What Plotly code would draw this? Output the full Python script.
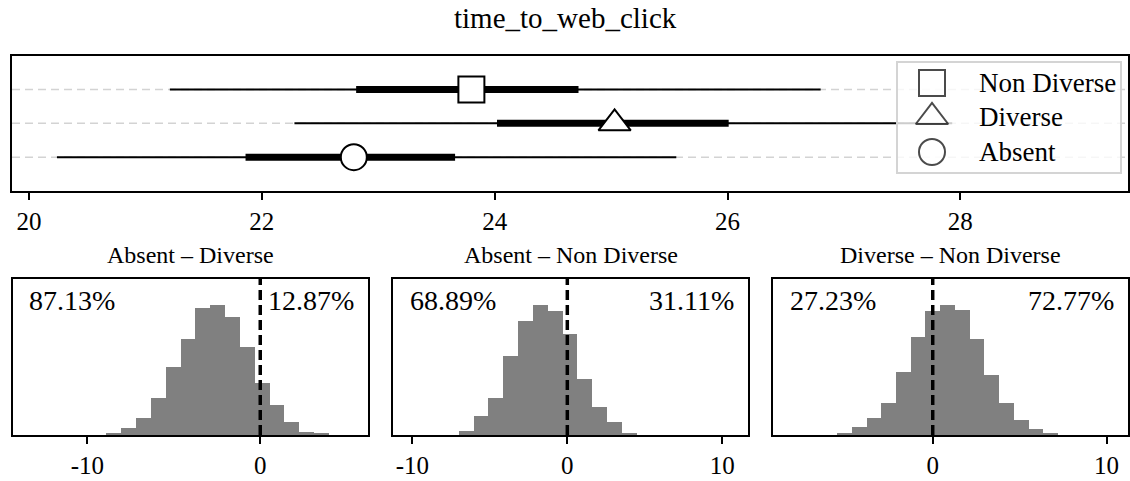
import plotly.graph_objects as go

W, H = 1130, 481
FONT = "Liberation Serif"

# ---- posterior summaries for time_to_web_click ----
groups = ["Absent", "Diverse", "Non Diverse"]
means = [22.79, 25.03, 23.80]
outer_lo = [20.24, 22.28, 21.21]
outer_hi = [25.56, 27.93, 26.80]
inner_lo = [21.86, 24.02, 22.81]
inner_hi = [23.66, 26.01, 24.72]
symbols = ["circle", "triangle-up", "square"]
marker_sizes = [26, 28, 26]
top_ticks = [20, 22, 24, 26, 28]

# ---- pairwise differences (histograms of posterior draws) ----
diff_titles = ["Absent – Diverse", "Absent – Non Diverse", "Diverse – Non Diverse"]
pct_below = [87.13, 68.89, 27.23]
pct_above = [12.87, 31.11, 72.77]

ad_edges = [-8.92, -8.06, -7.20, -6.35, -5.49, -4.63, -3.77, -2.91,
            -2.05, -1.19, -0.33, 0.52, 1.38, 2.24, 3.10, 3.96]
ad_counts = [6, 21, 51, 111, 206, 290, 383, 393, 358, 266, 156, 91, 38, 10, 4]

an_edges = [-6.99, -6.03, -5.07, -4.12, -3.16, -2.20, -1.25, -0.29,
            0.67, 1.62, 2.58, 3.53, 4.49]
an_counts = [13, 56, 111, 240, 346, 393, 376, 306, 168, 85, 38, 6]

dn_edges = [-5.48, -4.63, -3.79, -2.94, -2.09, -1.25, -0.40, 0.45,
            1.30, 2.14, 2.99, 3.84, 4.68, 5.53, 6.38, 7.23]
dn_counts = [6, 25, 51, 98, 190, 296, 375, 393, 378, 291, 180, 98, 45, 18, 6]

diff_ticks = [[-10, 0], [-10, 0, 10], [0, 10]]
diff_ranges = [[-14.32, 6.25], [-11.23, 11.68], [-9.17, 11.25]]


def fx(p):
    return p / W


def fy(p):
    return 1 - p / H


fig = go.Figure()

# ---------------- top panel: intervals and means ----------------
for i, g in enumerate(groups):
    fig.add_trace(go.Scatter(x=[outer_lo[i], outer_hi[i]], y=[i, i], mode="lines",
                             line=dict(color="black", width=2), showlegend=False,
                             hoverinfo="skip", xaxis="x", yaxis="y"))
for i, g in enumerate(groups):
    fig.add_trace(go.Scatter(x=[inner_lo[i], inner_hi[i]], y=[i, i], mode="lines",
                             line=dict(color="black", width=7), showlegend=False,
                             hoverinfo="skip", xaxis="x", yaxis="y"))
for i, g in enumerate(groups):
    fig.add_trace(go.Scatter(x=[means[i]], y=[i], mode="markers", name=g,
                             marker=dict(symbol=symbols[i], size=marker_sizes[i], color="white",
                                         line=dict(color="black", width=2)),
                             showlegend=False, xaxis="x", yaxis="y"))

shapes = []
for i in range(len(groups)):
    shapes.append(dict(type="line", xref="x domain", yref="y", x0=0, x1=1, y0=i, y1=i,
                       line=dict(color="#d3d3d3", width=1.5, dash="8px,5px"), layer="below"))

# ---------------- legend: translucent box (x5/y5) with symbols on top (x6/y6) ----------------
# box spans 897..1121 px horizontally and 62..173 px vertically
fig.add_trace(go.Scatter(x=[0, 1, 1, 0, 0], y=[0, 0, 1, 1, 0], fill="toself",
                         fillcolor="rgba(255,255,255,0.8)", mode="none",
                         showlegend=False, hoverinfo="skip", xaxis="x5", yaxis="y5"))
leg_order = [2, 1, 0]
leg_y = [90 / 111, 56 / 111, 21 / 111]
leg_marker_x = 35 / 224
leg_text_x = 80 / 224
fig.add_trace(go.Scatter(x=[leg_marker_x] * 3, y=leg_y, mode="markers",
                         marker=dict(symbol=[symbols[k] for k in leg_order],
                                     size=[marker_sizes[k] for k in leg_order],
                                     color="white", line=dict(color="black", width=2)),
                         cliponaxis=False, showlegend=False, hoverinfo="skip",
                         xaxis="x6", yaxis="y6"))
shapes.append(dict(type="rect", xref="x5 domain", yref="y5 domain", x0=0, x1=1, y0=0, y1=1,
                   line=dict(color="#d4d4d4", width=2), layer="above"))

annotations = []
for k, yy in zip(leg_order, leg_y):
    annotations.append(dict(text=groups[k], xref="x6", yref="y6", x=leg_text_x, y=yy,
                            xanchor="left", yanchor="middle", showarrow=False,
                            font=dict(family=FONT, size=27, color="black")))

# ---------------- histograms of differences ----------------
hist_sets = [(ad_edges, ad_counts), (an_edges, an_counts), (dn_edges, dn_counts)]
for j, (edges, counts) in enumerate(hist_sets):
    ax = j + 2
    centers = [(a + b) / 2 for a, b in zip(edges[:-1], edges[1:])]
    widths = [b - a for a, b in zip(edges[:-1], edges[1:])]
    fig.add_trace(go.Bar(x=centers, y=counts, width=widths,
                         marker=dict(color="#808080", line=dict(width=0)),
                         showlegend=False, hoverinfo="skip", xaxis=f"x{ax}", yaxis=f"y{ax}"))
    shapes.append(dict(type="line", xref=f"x{ax}", yref=f"y{ax} domain", x0=0, x1=0, y0=0, y1=1,
                       line=dict(color="black", width=3.5, dash="10px,5px"), layer="above"))
    annotations.append(dict(text=f"{pct_below[j]:.2f}%", xref=f"x{ax} domain", yref=f"y{ax} domain",
                            x=0.040, y=0.865, xanchor="left", yanchor="middle", showarrow=False,
                            font=dict(family=FONT, size=28, color="black")))
    annotations.append(dict(text=f"{pct_above[j]:.2f}%", xref=f"x{ax} domain", yref=f"y{ax} domain",
                            x=0.966, y=0.865, xanchor="right", yanchor="middle", showarrow=False,
                            font=dict(family=FONT, size=28, color="black")))

# titles
annotations.append(dict(text="time_to_web_click", xref="paper", yref="paper", x=0.5, y=fy(18),
                        xanchor="center", yanchor="middle", showarrow=False,
                        font=dict(family=FONT, size=29, color="black")))
hist_px = [(12.7, 368.3), (393.3, 748.3), (773.3, 1128.3)]
for j, (a, b) in enumerate(hist_px):
    annotations.append(dict(text=diff_titles[j], xref="paper", yref="paper", x=fx((a + b) / 2),
                            y=fy(255), xanchor="center", yanchor="middle", showarrow=False,
                            font=dict(family=FONT, size=24, color="black")))

frame = dict(showline=True, linecolor="black", linewidth=2, mirror=True,
             showgrid=False, zeroline=False, fixedrange=True)
xtick = dict(ticks="outside", ticklen=7, tickwidth=2, tickcolor="black",
             tickfont=dict(family=FONT, size=25, color="black"))


def tick_text(vals):
    # plain hyphen for negatives
    return [str(v) for v in vals]


leg_dom_x = [fx(897), fx(1121)]
leg_dom_y = [fy(173), fy(62)]

layout = dict(
    width=W, height=H, margin=dict(l=0, r=0, t=0, b=0),
    # transparent plot areas so the overlapping legend subplots do not paint opaque backgrounds
    paper_bgcolor="white", plot_bgcolor="rgba(0,0,0,0)",
    showlegend=False, bargap=0,
    shapes=shapes, annotations=annotations,
    xaxis=dict(domain=[fx(12), fx(1128)], range=[19.854, 29.44], tickvals=top_ticks,
               ticktext=tick_text(top_ticks), anchor="y", **frame, **xtick),
    yaxis=dict(domain=[fy(191), fy(55.7)], range=[-1, 3], showticklabels=False,
               ticks="", anchor="x", **frame),
    xaxis5=dict(domain=leg_dom_x, range=[0, 1], visible=False, anchor="y5", fixedrange=True),
    yaxis5=dict(domain=leg_dom_y, range=[0, 1], visible=False, anchor="x5", fixedrange=True),
    xaxis6=dict(domain=leg_dom_x, range=[0, 1], visible=False, anchor="y6", fixedrange=True),
    yaxis6=dict(domain=leg_dom_y, range=[0, 1], visible=False, anchor="x6", fixedrange=True),
)
for j, (a, b) in enumerate(hist_px):
    ax = j + 2
    counts = hist_sets[j][1]
    layout[f"xaxis{ax}"] = dict(domain=[fx(a), fx(b)], range=diff_ranges[j], tickvals=diff_ticks[j],
                                ticktext=tick_text(diff_ticks[j]), anchor=f"y{ax}", **frame, **xtick)
    layout[f"yaxis{ax}"] = dict(domain=[fy(435), fy(279)], range=[0, 1.2 * max(counts)],
                                showticklabels=False, ticks="", anchor=f"x{ax}", **frame)

fig.update_layout(**layout)
fig.write_html("out.html")
